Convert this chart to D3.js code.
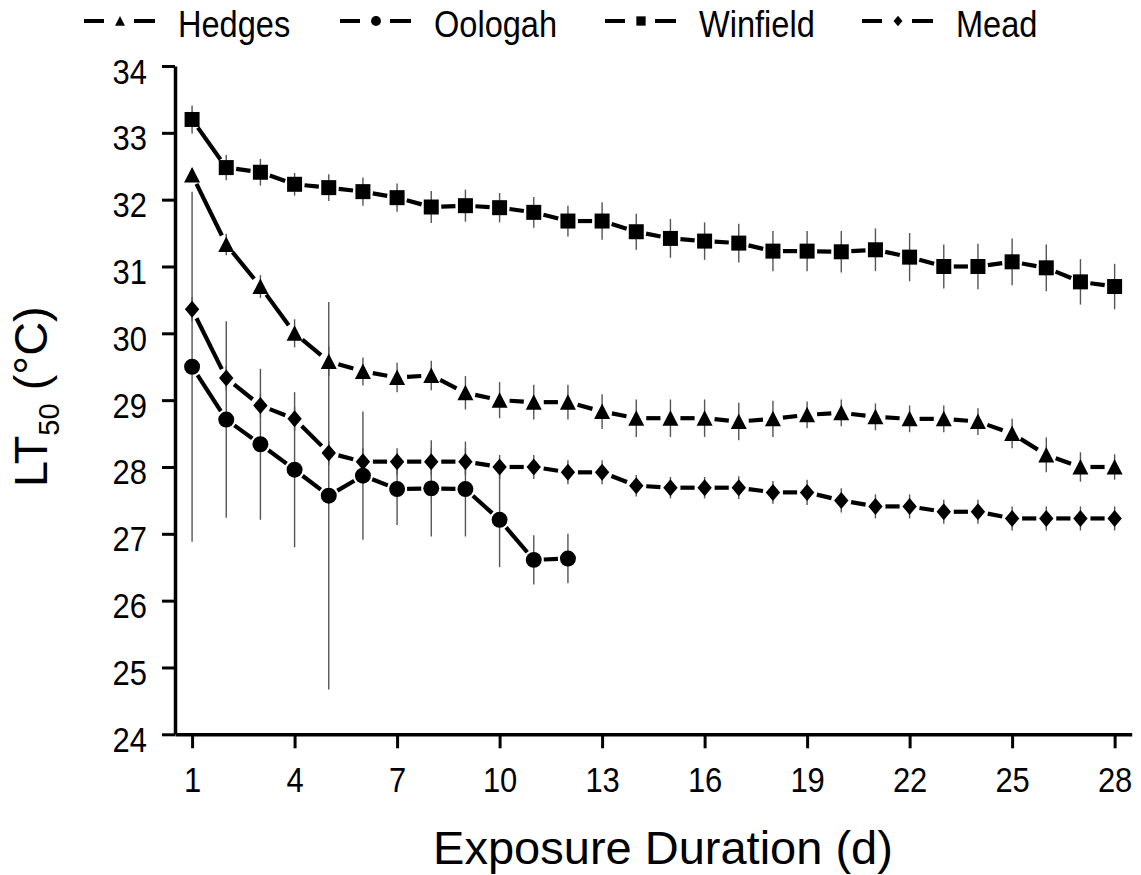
<!DOCTYPE html>
<html><head><meta charset="utf-8">
<script src="https://cdn.jsdelivr.net/npm/d3@7"></script>
<style>
body{margin:0;background:#fff;}
text{font-family:"Liberation Sans",Arial,sans-serif;fill:#000;}
</style>
</head><body>
<svg id="chart" width="1141" height="875"></svg>
<script>
// ---- data ----
const days = [1,2,3,4,5,6,7,8,9,10,11,12,13,14,15,16,17,18,19,20,21,22,23,24,25,26,27,28];
const seriesNames = ["Hedges","Oologah","Winfield","Mead"];
const hedges    = [32.37,31.33,30.70,30.00,29.58,29.43,29.34,29.37,29.11,29.00,28.97,28.97,28.83,28.73,28.73,28.73,28.68,28.72,28.78,28.81,28.75,28.72,28.72,28.68,28.50,28.18,28.00,28.00];
const hedgesErr = [0.10,0.16,0.17,0.21,0.22,0.21,0.22,0.22,0.25,0.27,0.26,0.26,0.26,0.28,0.28,0.28,0.28,0.27,0.20,0.20,0.20,0.20,0.20,0.20,0.22,0.26,0.22,0.19];
const oologah    = [29.50,28.71,28.34,27.96,27.57,27.87,27.67,27.68,27.67,27.21,26.61,26.63];
const oologahErr = [2.62,1.47,1.13,1.16,2.90,0.96,0.54,0.72,0.71,0.71,0.37,0.37];
const winfield    = [33.20,32.48,32.41,32.23,32.18,32.12,32.03,31.89,31.91,31.88,31.81,31.68,31.68,31.52,31.42,31.38,31.35,31.23,31.23,31.22,31.25,31.14,31.00,31.00,31.07,30.98,30.77,30.70];
const winfieldErr = [0.21,0.19,0.20,0.17,0.20,0.21,0.21,0.24,0.24,0.22,0.23,0.23,0.28,0.27,0.29,0.28,0.29,0.30,0.30,0.31,0.32,0.36,0.33,0.34,0.35,0.35,0.34,0.34];
const mead    = [30.36,29.33,28.92,28.72,28.21,28.08,28.08,28.08,28.08,28.00,28.00,27.92,27.92,27.72,27.69,27.69,27.69,27.62,27.62,27.50,27.41,27.41,27.33,27.33,27.23,27.23,27.23,27.23];
const meadErr = [0.18,0.18,0.18,0.18,0.18,0.20,0.20,0.20,0.20,0.18,0.18,0.18,0.18,0.16,0.16,0.16,0.17,0.17,0.19,0.18,0.18,0.18,0.18,0.18,0.18,0.18,0.18,0.18];
const xTicks = [1,4,7,10,13,16,19,22,25,28];
const yTicks = [24,25,26,27,28,29,30,31,32,33,34];
const xTitle = "Exposure Duration (d)";

// ---- drawing ----
const svg = d3.select("#chart");
const x = d3.scaleLinear().domain([0.5,28.5]).range([175,1131.7]);
const y = d3.scaleLinear().domain([24,34]).range([734.3,66]);

const shapes = {
  triangle: s => `M0,${-8*s}L${8*s},${7.5*s}L${-8*s},${7.5*s}Z`,
  circle: s => d3.symbol(d3.symbolCircle, 200*s*s)(),
  square: s => d3.symbol(d3.symbolSquare, 225*s*s)(),
  diamond: s => `M0,${-8.5*s}L${7.2*s},0L0,${8.5*s}L${-7.2*s},0Z`
};
const series = [
  {name: seriesNames[0], vals: hedges, err: hedgesErr, shape: "triangle"},
  {name: seriesNames[1], vals: oologah, err: oologahErr, shape: "circle"},
  {name: seriesNames[2], vals: winfield, err: winfieldErr, shape: "square"},
  {name: seriesNames[3], vals: mead, err: meadErr, shape: "diamond"}
];

// axes
const yAxis = svg.append("g").attr("transform", `translate(${x(0.5)},0)`)
  .call(d3.axisLeft(y).tickValues(yTicks).tickSize(13).tickSizeOuter(0));
const xAxis = svg.append("g").attr("transform", `translate(0,${y(24)})`)
  .call(d3.axisBottom(x).tickValues(xTicks).tickSize(14).tickSizeOuter(0));
[yAxis, xAxis].forEach(g => {
  g.select(".domain").attr("stroke", "#000").attr("stroke-width", 3.5);
  g.selectAll(".tick line").attr("stroke", "#000").attr("stroke-width", 3);
  g.selectAll(".tick text").attr("font-size", 36).attr("font-family", '"Liberation Sans",Arial,sans-serif').attr("fill", "#000");
});
const sx = 0.86;
yAxis.selectAll(".tick text").attr("x", -28/sx).attr("dy", "17px").attr("transform", `scale(${sx},1)`);
xAxis.selectAll(".tick text").attr("y", 57.7).attr("dy", 0).attr("transform", `scale(${sx},1)`);

// error bars
const gErr = svg.append("g");
series.forEach(s => {
  gErr.selectAll(null).data(s.vals).enter().append("line")
    .attr("x1", (v,i) => x(days[i])).attr("x2", (v,i) => x(days[i]))
    .attr("y1", (v,i) => y(v + s.err[i])).attr("y2", (v,i) => y(v - s.err[i]))
    .attr("stroke", "#555").attr("stroke-width", 1.4);
});

// connecting lines with gaps around markers
const gap = 10;
const gLines = svg.append("g");
series.forEach(s => {
  const pts = s.vals.map((v,i) => [x(days[i]), y(v)]);
  const segs = d3.pairs(pts);
  gLines.selectAll(null).data(segs).enter().append("line")
    .each(function([a,b]){
      const dx = b[0]-a[0], dy = b[1]-a[1], L = Math.hypot(dx,dy);
      const ux = dx/L, uy = dy/L;
      d3.select(this)
        .attr("x1", a[0]+ux*gap).attr("y1", a[1]+uy*gap)
        .attr("x2", b[0]-ux*gap).attr("y2", b[1]-uy*gap);
    })
    .attr("stroke", "#000").attr("stroke-width", 4.2);
});

// markers
const gMk = svg.append("g");
series.forEach(s => {
  gMk.selectAll(null).data(s.vals).enter().append("path")
    .attr("d", shapes[s.shape](1))
    .attr("transform", (v,i) => `translate(${x(days[i])},${y(v)})`)
    .attr("fill", "#000");
});

// legend
const legendX = [84, 340, 605, 862];
const gLeg = svg.append("g");
series.forEach((s,k) => {
  const x0 = legendX[k], cy = 21;
  gLeg.append("line").attr("x1", x0).attr("x2", x0+20).attr("y1", cy).attr("y2", cy).attr("stroke","#000").attr("stroke-width",4);
  gLeg.append("line").attr("x1", x0+50).attr("x2", x0+71).attr("y1", cy).attr("y2", cy).attr("stroke","#000").attr("stroke-width",4);
  gLeg.append("path").attr("d", shapes[s.shape](0.62)).attr("transform", `translate(${x0+36},${cy})`).attr("fill","#000");
  gLeg.append("text").attr("x", (x0+94)/0.88).attr("y", 37).attr("font-size", 37)
    .attr("transform", "scale(0.88,1)").text(s.name);
});

// axis titles
svg.append("text").attr("x", 663).attr("y", 864).attr("text-anchor", "middle")
  .attr("font-size", 47).text(xTitle);
const yt = svg.append("text").attr("transform", "translate(47,487) rotate(-90)").attr("font-size", 47);
yt.append("tspan").text("LT");
yt.append("tspan").attr("font-size", 29).attr("dy", 12).text("50");
yt.append("tspan").attr("dy", -12).text(" (°C)");
</script>
</body></html>
